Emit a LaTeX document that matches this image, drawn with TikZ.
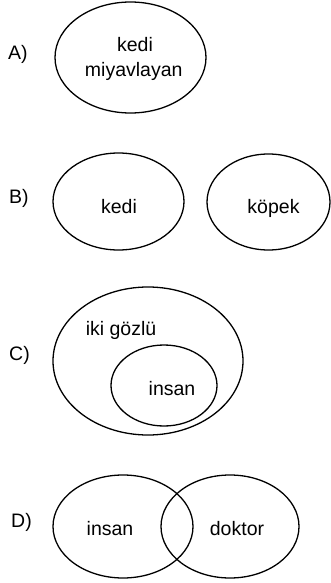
\documentclass[tikz,border=0pt]{standalone}
\usepackage{fontspec}
\setmainfont{Liberation Sans}
\usetikzlibrary{shapes.geometric}
\begin{document}
\begin{tikzpicture}[x=1pt,y=-1pt,
  ell/.style={draw,ellipse,line width=1.3pt,inner sep=0pt,outer sep=0pt},
  txt/.style={anchor=base,inner sep=0pt,font=\fontsize{19.5}{25}\selectfont},
  lbl/.style={anchor=base west,inner sep=0pt,font=\fontsize{19.5}{25}\selectfont}]
\useasboundingbox (0,0) rectangle (330,583);
% A
\node[lbl] (la) at (8,60) {A)};
\node[ell,minimum width=151pt,minimum height=111pt] (ea) at (130.5,57.5) {};
\node[txt] (ta1) at (135,52) {kedi};
\node[txt] (ta2) at (133.7,76.7) {miyavlayan};
% B
\node[lbl] (lb) at (9,203) {B)};
\node[ell,minimum width=131pt,minimum height=97pt] (eb1) at (118.5,201.5) {};
\node[ell,minimum width=123pt,minimum height=96pt] (eb2) at (268.5,202) {};
\node[txt] (tb1) at (119,213) {kedi};
\node[txt] (tb2) at (273.5,213) {köpek};
% C
\node[lbl] (lc) at (9,360) {C)};
\node[ell,minimum width=190pt,minimum height=148pt] (ec1) at (148,361) {};
\node[ell,minimum width=106pt,minimum height=81pt] (ec2) at (164,385.5) {};
\node[txt] (tc1) at (121,335) {iki gözlü};
\node[txt] (tc2) at (172,395) {insan};
% D
\node[lbl] (ld) at (11,527) {D)};
\node[ell,minimum width=140pt,minimum height=103pt] (ed1) at (123,526.5) {};
\node[ell,minimum width=138pt,minimum height=103pt] (ed2) at (230,526.5) {};
\node[txt] (td1) at (110,535) {insan};
\node[txt] (td2) at (237,535) {doktor};
\end{tikzpicture}
\end{document}
